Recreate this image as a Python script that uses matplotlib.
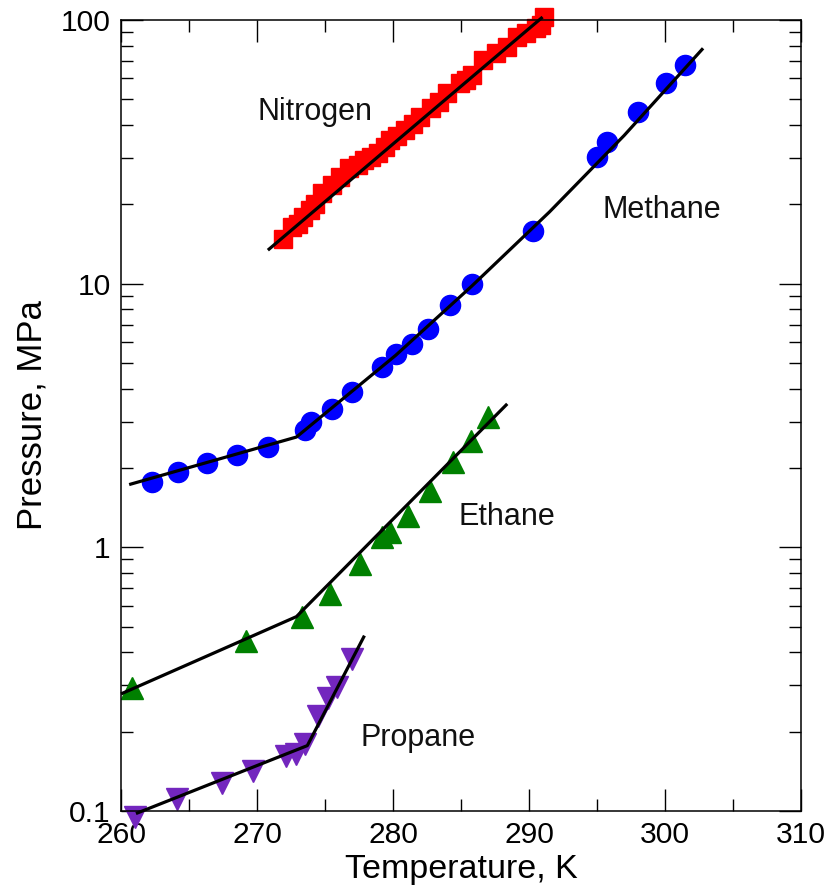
import matplotlib
matplotlib.use("Agg")
import matplotlib.pyplot as plt
from matplotlib.ticker import FixedLocator, FixedFormatter, LogLocator, NullFormatter

plt.rcParams['font.family'] = ['Liberation Sans', 'DejaVu Sans']

# ---- data ----
n2_T = [271.9, 272.6, 273.0, 273.4, 273.9, 274.3, 274.8, 275.5, 276.1, 276.8, 277.4, 277.9,
        278.4, 278.9, 279.4, 279.8, 280.3, 280.9, 281.5, 282.0, 282.8, 283.4, 284.0,
        284.9, 285.4, 285.8, 286.6, 287.6, 288.4, 289.1, 289.8, 290.5, 290.9, 291.1]
n2_P = [14.8, 16.4, 16.9, 17.9, 19.0, 20.1, 22.0, 23.6, 25.4, 27.4, 28.2, 29.4,
        30.2, 31.2, 33.0, 35.0, 36.4, 38.2, 40.5, 42.9, 46.2, 49.0, 52.7,
        57.5, 59.0, 61.8, 70.5, 74.8, 79.3, 86.5, 89.0, 93.0, 95.7, 103.0]
n2_fit_T = [270.8, 291.0]
n2_fit_P = [13.4, 102.6]

ch4_T = [262.3, 264.2, 266.3, 268.5, 270.8, 273.5, 274.0, 275.5, 277.0, 279.2,
         280.2, 281.4, 282.6, 284.2, 285.8, 290.3, 295.0, 295.7, 298.0, 300.1, 301.5]
ch4_P = [1.77, 1.93, 2.08, 2.23, 2.40, 2.78, 2.99, 3.36, 3.88, 4.83,
         5.43, 5.93, 6.75, 8.28, 10.0, 15.9, 30.3, 34.5, 44.9, 57.5, 67.5]
ch4_fit_T = [260.6, 272.9, 280.2, 285.8, 291.5, 297.0, 302.8]
ch4_fit_P = [1.73, 2.62, 5.35, 9.8, 18.7, 36.5, 78.1]

c2h6_T = [260.8, 269.2, 273.3, 275.4, 277.6, 279.2, 279.8, 281.1, 282.7, 284.4, 285.7, 287.0]
c2h6_P = [0.294, 0.443, 0.543, 0.666, 0.866, 1.09, 1.14, 1.32, 1.64, 2.10, 2.54, 3.12]
c2h6_fit_T = [260.0, 272.9, 288.4]
c2h6_fit_P = [0.278, 0.546, 3.50]

c3h8_T = [261.0, 264.1, 267.4, 269.7, 272.1, 272.9, 273.5, 274.5, 275.2, 275.9, 277.0]
c3h8_P = [0.0953, 0.111, 0.128, 0.142, 0.162, 0.164, 0.180, 0.230, 0.268, 0.296, 0.377]
c3h8_fit_T = [261.1, 273.7, 277.9]
c3h8_fit_P = [0.0978, 0.177, 0.4625]

labels = ["Nitrogen", "Methane", "Ethane", "Propane"]
label_T = [270.0, 295.4, 284.85, 277.6]
label_P = [44.7, 19.0, 1.30, 0.190]

y_major = [0.1, 1, 10, 100]
y_major_labels = ["0.1", "1", "10", "100"]
x_major = [260, 270, 280, 290, 300, 310]

# ---- figure ----
fig = plt.figure(figsize=(8.30, 8.94), dpi=100)
ax = fig.add_axes([121/830, 83/894, 680/830, 791/894])
ax.set_yscale('log')
ax.set_xlim(260, 310)
ax.set_ylim(0.1, 100)

ax.plot(n2_T, n2_P, ls='none', marker='s', ms=13, color='#ff0000', mec='#ff0000', clip_on=False, zorder=2)
ax.plot(ch4_T, ch4_P, ls='none', marker='o', ms=14.5, color='#0000ff', mec='#0000ff', zorder=2)
ax.plot(c2h6_T, c2h6_P, ls='none', marker='^', ms=16, color='#008000', mec='#008000', zorder=2)
ax.plot(c3h8_T, c3h8_P, ls='none', marker='v', ms=16, color='#7326be', mec='#7326be', clip_on=False, zorder=2)

for T, P in [(n2_fit_T, n2_fit_P), (ch4_fit_T, ch4_fit_P),
             (c2h6_fit_T, c2h6_fit_P), (c3h8_fit_T, c3h8_fit_P)]:
    ax.plot(T, P, color='black', lw=2.3, zorder=3, solid_capstyle='butt', clip_on=False)

for s, T, P in zip(labels, label_T, label_P):
    ax.text(T, P, s, fontsize=22, ha='left', va='center', color='#111111')

# ticks
ax.xaxis.set_major_locator(FixedLocator(x_major))
ax.xaxis.set_minor_locator(FixedLocator([265, 275, 285, 295, 305]))
ax.yaxis.set_major_locator(FixedLocator(y_major))
ax.yaxis.set_major_formatter(FixedFormatter(y_major_labels))
ax.yaxis.set_minor_locator(LogLocator(base=10, subs=range(2, 10)))
ax.yaxis.set_minor_formatter(NullFormatter())
ax.tick_params(which='both', direction='in', top=True, right=True, width=1.0, color='black')
ax.tick_params(which='major', length=16, labelsize=21.6, pad=7.5)
ax.tick_params(which='minor', length=8.5)
for sp in ax.spines.values():
    sp.set_linewidth(1.1)

ax.set_xlabel("Temperature, K", fontsize=24.5)
ax.set_ylabel("Pressure, MPa", fontsize=25)
ax.xaxis.set_label_coords(0.5, -0.054)
ax.yaxis.set_label_coords(-0.106, 0.5)

fig.savefig("out.png", dpi=100)
